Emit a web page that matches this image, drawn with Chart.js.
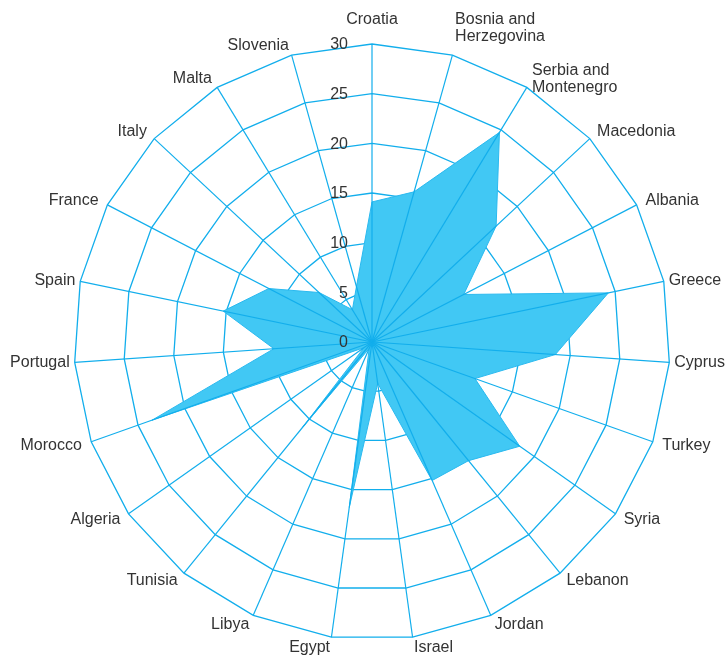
<!DOCTYPE html>
<html>
<head>
<meta charset="utf-8">
<script src="https://cdn.jsdelivr.net/npm/chart.js@4.4.1/dist/chart.umd.min.js"></script>
<style>
  html, body { margin: 0; padding: 0; background: #ffffff; }
  canvas { display: block; }
</style>
</head>
<body>
<canvas id="chart" width="725" height="656"></canvas>
<script>
// Countries around the radar, clockwise from the top
const countries = [
  'Croatia', ['Bosnia and', 'Herzegovina'], ['Serbia and', 'Montenegro'], 'Macedonia',
  'Albania', 'Greece', 'Cyprus', 'Turkey', 'Syria', 'Lebanon', 'Jordan', 'Israel',
  'Egypt', 'Libya', 'Tunisia', 'Algeria', 'Morocco', 'Portugal', 'Spain', 'France',
  'Italy', 'Malta', 'Slovenia'
];

// One value per country
const values = [
  14.1, 15.7, 24.7, 17.1,
  10.4, 24.3, 18.5, 11.0, 18.2, 15.4, 15.2, 4.2,
  16.8, 0.7, 11.0, 1.0, 23.5, 9.9, 15.3, 11.7,
  7.3, 3.8, 5.8
];

// Radial axis
const axisMin = 0;
const axisMax = 30;
const axisStep = 5;

const gridColor = '#12aeec';
const textColor = '#333333';
const fontFamily = '"Liberation Sans", Arial, Helvetica, sans-serif';

// Spokes are drawn after the filled area so they stay visible on top of it
const spokesOnTop = {
  id: 'spokesOnTop',
  afterDatasetsDraw(chart) {
    const s = chart.scales.r;
    const ctx = chart.ctx;
    ctx.save();
    ctx.strokeStyle = gridColor;
    ctx.lineWidth = 1.2;
    for (let i = 0; i < chart.data.labels.length; i++) {
      const p = s.getPointPosition(i, s.drawingArea);
      ctx.beginPath();
      ctx.moveTo(s.xCenter, s.yCenter);
      ctx.lineTo(p.x, p.y);
      ctx.stroke();
    }
    ctx.restore();
  }
};

// Country names just outside the outer ring, and value labels left of the vertical axis
const axisText = {
  id: 'axisText',
  afterDraw(chart) {
    const s = chart.scales.r;
    const ctx = chart.ctx;
    ctx.save();
    ctx.font = '16px ' + fontFamily;
    ctx.fillStyle = textColor;

    const lineH = 17;
    chart.data.labels.forEach((label, i) => {
      const lines = Array.isArray(label) ? label : [label];
      const probe = s.getPointPosition(i, s.drawingArea);
      const a = probe.angle + Math.PI / 2;
      const sx = Math.sin(a);
      const cy = Math.cos(a);
      const centered = Math.abs(sx) < 0.1;
      let gap = 10;
      if (centered) gap = 16;
      else if (Math.abs(cy) < 0.25) gap = 5;
      const p = s.getPointPosition(i, s.drawingArea + gap);
      ctx.textAlign = sx > 0.1 ? 'left' : (sx < -0.1 ? 'right' : 'center');
      ctx.textBaseline = 'middle';
      const h = lines.length * lineH;
      const above = centered ? cy > 0 : (cy > 0.9 && lines.length > 1);
      const top = above ? p.y - h : p.y - h / 2;
      lines.forEach((ln, k) => {
        ctx.fillText(ln, p.x, top + lineH * k + lineH / 2);
      });
    });

    ctx.textAlign = 'right';
    ctx.textBaseline = 'middle';
    s.ticks.forEach(t => {
      const y = s.yCenter - s.getDistanceFromCenterForValue(t.value);
      ctx.fillText(String(t.value), s.xCenter - 24, y + 1);
    });
    ctx.restore();
  }
};

new Chart(document.getElementById('chart'), {
  type: 'radar',
  data: {
    labels: countries,
    datasets: [{
      data: values,
      backgroundColor: '#41c8f4',
      borderColor: '#2ab9ef',
      borderWidth: 1,
      fill: true,
      tension: 0,
      pointRadius: 0,
      pointHoverRadius: 0
    }]
  },
  options: {
    responsive: false,
    devicePixelRatio: 1,
    animation: false,
    layout: { padding: { left: 74, right: 55, top: 44, bottom: 16 } },
    plugins: {
      legend: { display: false },
      tooltip: { enabled: false }
    },
    scales: {
      r: {
        min: axisMin,
        max: axisMax,
        ticks: { stepSize: axisStep, display: false },
        pointLabels: { display: false },
        angleLines: { display: false },
        grid: { color: gridColor, lineWidth: 1.3, circular: false }
      }
    }
  },
  plugins: [spokesOnTop, axisText]
});
</script>
</body>
</html>
